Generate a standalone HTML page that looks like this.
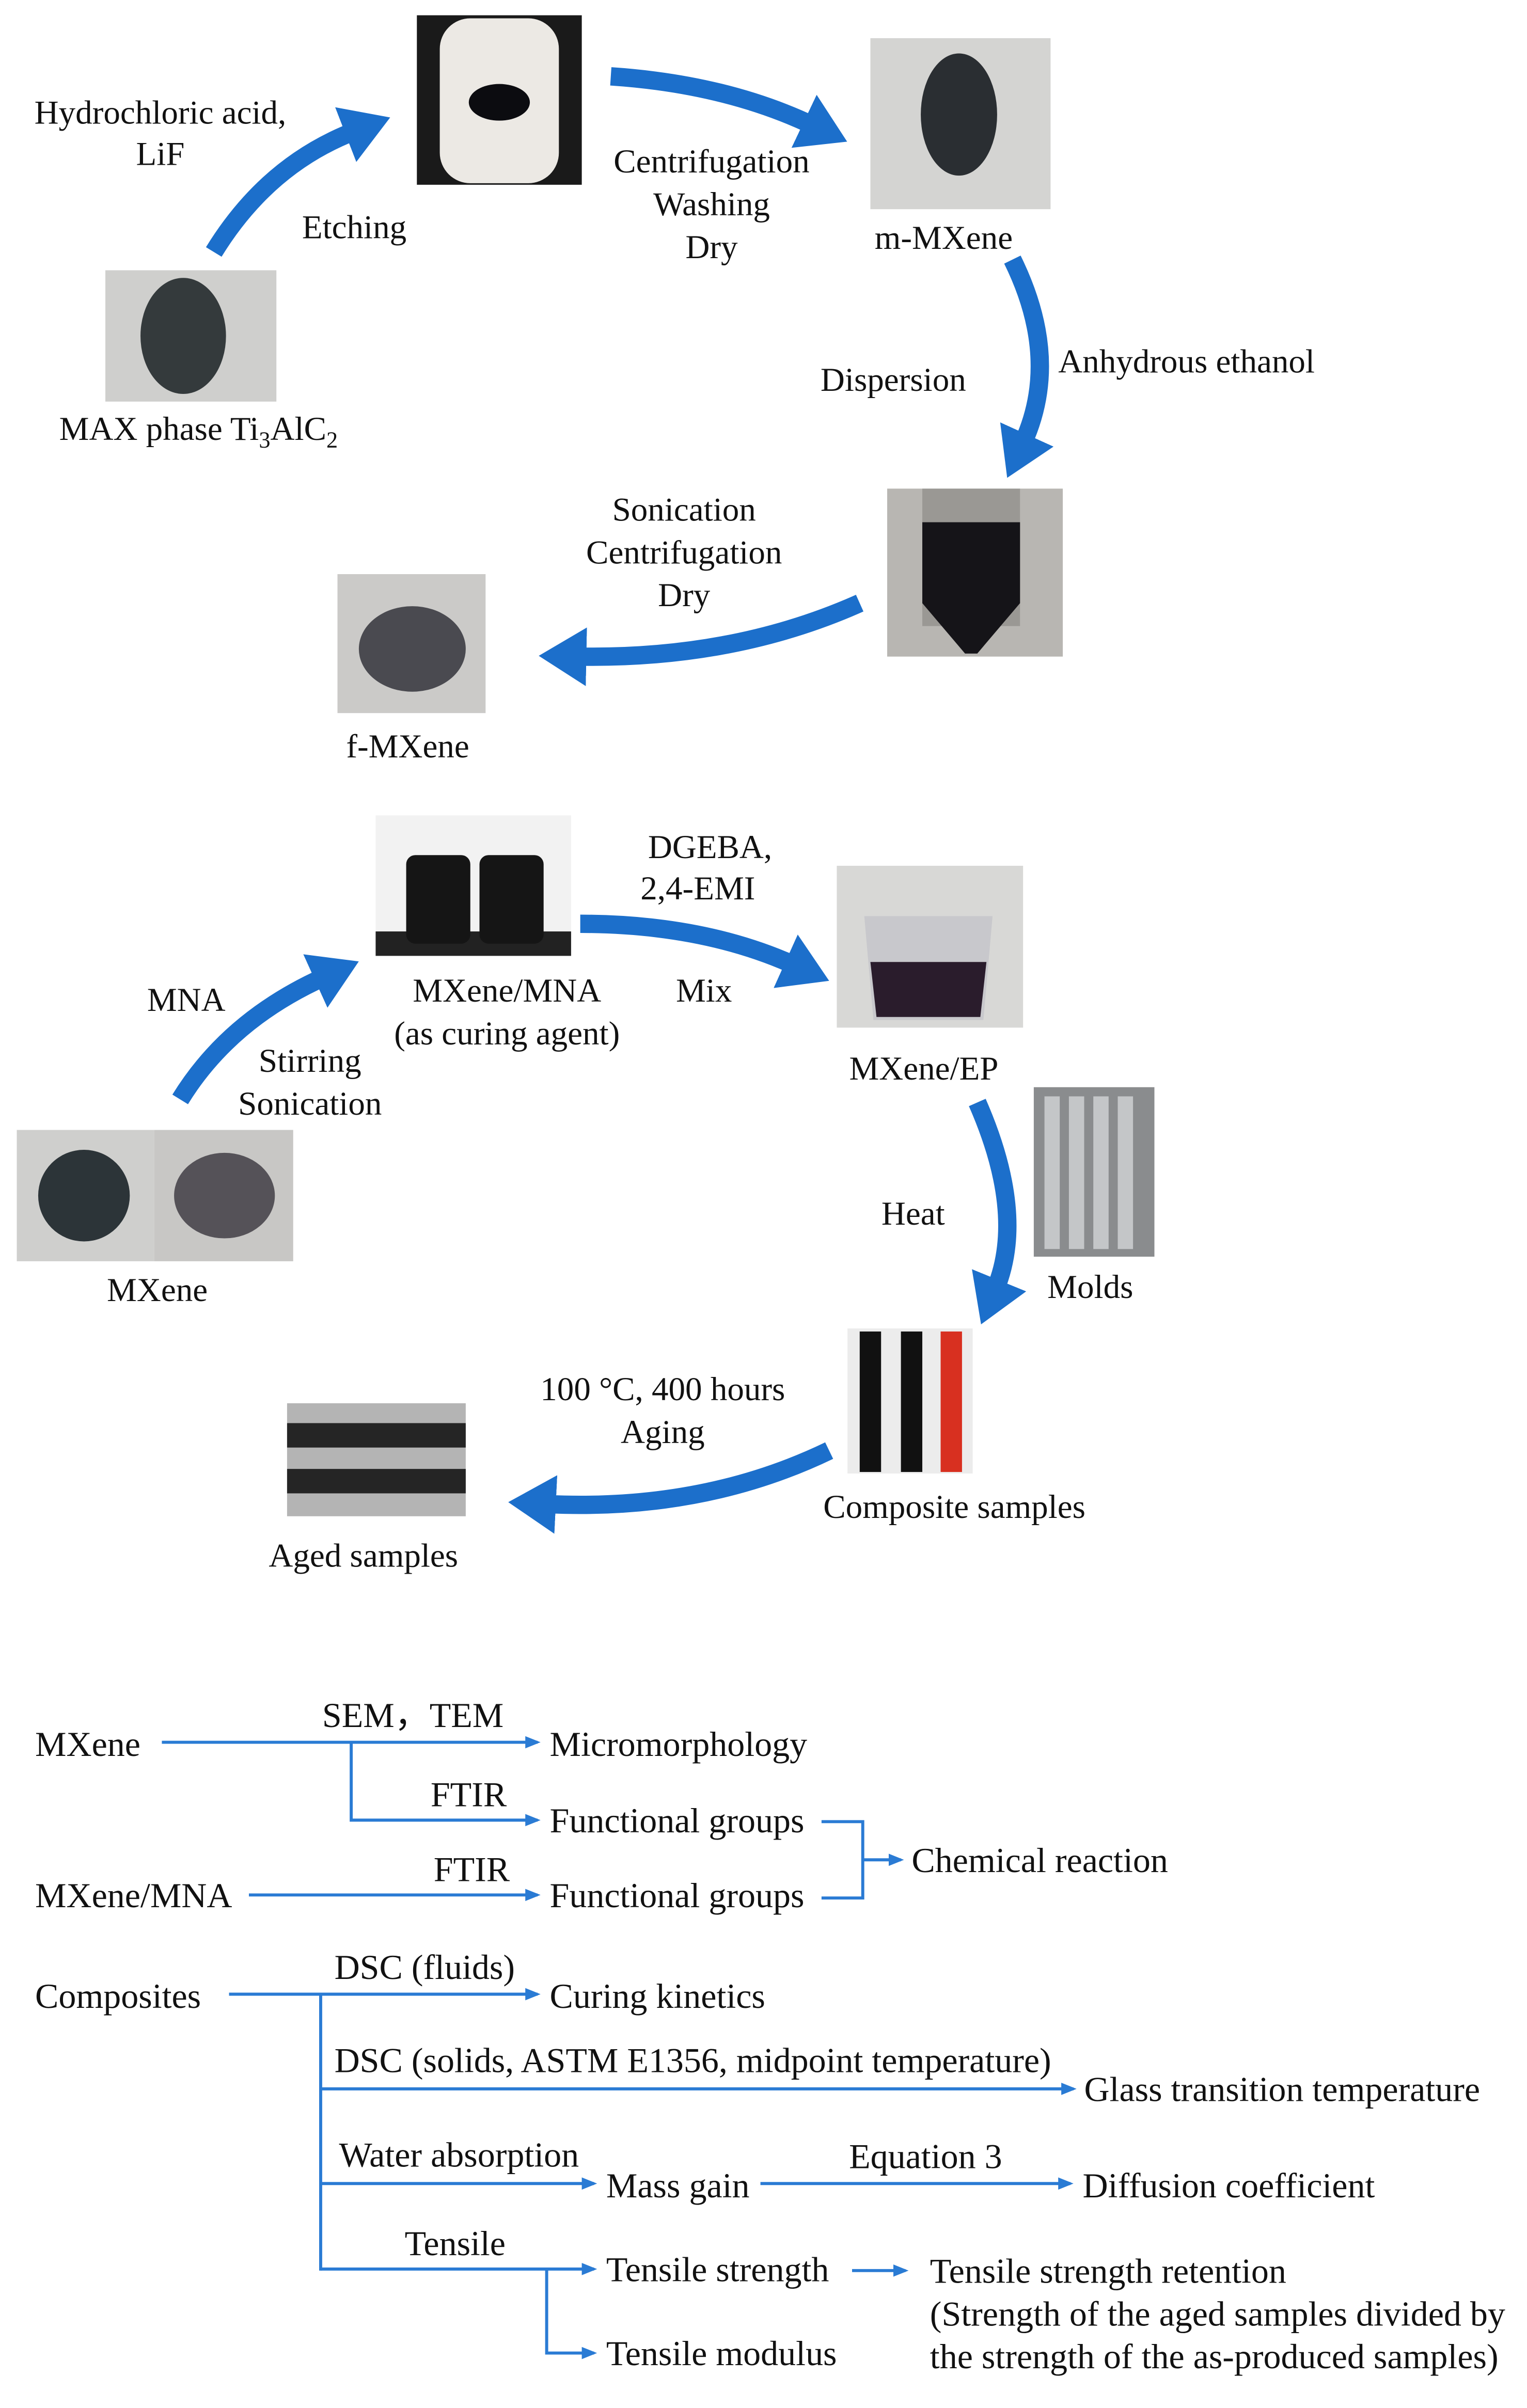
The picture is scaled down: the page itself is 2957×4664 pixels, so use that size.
<!DOCTYPE html>
<html><head><meta charset="utf-8"><style>
html,body{margin:0;padding:0;background:#fff;}
svg{display:block;}
text{font-family:"Liberation Serif","Times New Roman",serif;fill:#111;}
</style></head><body>
<svg width="2957" height="4664" viewBox="0 0 1000 1577" preserveAspectRatio="none" xmlns="http://www.w3.org/2000/svg">
<defs>
<marker id="big" markerWidth="3" markerHeight="3.2" refX="0.5" refY="1.6" orient="auto" markerUnits="strokeWidth"><path d="M0,0 L2.6,1.6 L0,3.2 Z" fill="#1c6fcb"/></marker>
<marker id="sm" markerWidth="5" markerHeight="5" refX="4" refY="2.5" orient="auto" markerUnits="strokeWidth"><path d="M0,0.5 L5,2.5 L0,4.5 Z" fill="#2a7bd4"/></marker>
</defs>
<g fill="none" stroke="#1c6fcb" stroke-width="12">
<path d="M140,165 Q175,108 232,86" marker-end="url(#big)"/>
<path d="M400,50 Q475,55 532,82" marker-end="url(#big)"/>
<path d="M663,170 Q695,235 670,290" marker-end="url(#big)"/>
<path d="M563,395 Q480,432 378,430" marker-end="url(#big)"/>
<path d="M118,720 Q150,668 212,640" marker-end="url(#big)"/>
<path d="M380,605 Q460,605 520,632" marker-end="url(#big)"/>
<path d="M640,722 Q672,795 652,844" marker-end="url(#big)"/>
<path d="M543,950 Q460,990 358,985" marker-end="url(#big)"/>
</g>
<rect x="273" y="10" width="108" height="111" fill="#1a1a1a"/>
<rect x="288" y="12" width="78" height="108" rx="20" fill="#ece9e4"/>
<ellipse cx="327" cy="67" rx="20" ry="12" fill="#0c0c10"/>
<rect x="570" y="25" width="118" height="112" fill="#d4d4d2"/>
<ellipse cx="628" cy="75" rx="25" ry="40" fill="#2a2e32"/>
<rect x="69" y="177" width="112" height="86" fill="#cfcfcd"/>
<ellipse cx="120" cy="220" rx="28" ry="38" fill="#343a3c"/>
<rect x="581" y="320" width="115" height="110" fill="#b8b6b2"/>
<rect x="604" y="320" width="64" height="90" fill="#9a9894"/>
<path d="M604,342 L668,342 L668,395 L640,428 L632,428 L604,395 Z" fill="#151418"/>
<rect x="221" y="376" width="97" height="91" fill="#cbcac8"/>
<ellipse cx="270" cy="425" rx="35" ry="28" fill="#4a4a50"/>
<rect x="246" y="534" width="128" height="92" fill="#f2f2f2"/>
<rect x="246" y="610" width="128" height="16" fill="#222"/>
<rect x="266" y="560" width="42" height="58" rx="6" fill="#151515"/>
<rect x="314" y="560" width="42" height="58" rx="6" fill="#151515"/>
<rect x="548" y="567" width="122" height="106" fill="#d8d8d6"/>
<path d="M566,600 L650,600 L644,668 L572,668 Z" fill="#c8c8cc"/>
<path d="M570,630 L646,630 L642,666 L574,666 Z" fill="#2a1c2c"/>
<rect x="11" y="740" width="90" height="86" fill="#cfcfcd"/>
<ellipse cx="55" cy="783" rx="30" ry="30" fill="#2c3438"/>
<rect x="101" y="740" width="91" height="86" fill="#c8c7c5"/>
<ellipse cx="147" cy="783" rx="33" ry="28" fill="#555258"/>
<rect x="677" y="712" width="79" height="111" fill="#8a8c8e"/>
<g fill="#c4c6c8"><rect x="684" y="718" width="10" height="100"/><rect x="700" y="718" width="10" height="100"/><rect x="716" y="718" width="10" height="100"/><rect x="732" y="718" width="10" height="100"/></g>
<rect x="555" y="870" width="82" height="95" fill="#ececec"/>
<rect x="563" y="872" width="14" height="92" fill="#111"/>
<rect x="590" y="872" width="14" height="92" fill="#111"/>
<rect x="616" y="872" width="14" height="92" fill="#d83020"/>
<rect x="188" y="919" width="117" height="74" fill="#b4b4b4"/>
<rect x="188" y="932" width="117" height="16" fill="#252525"/>
<rect x="188" y="962" width="117" height="16" fill="#252525"/>
<g font-size="22" text-anchor="middle">
<text x="105" y="81">Hydrochloric acid,</text>
<text x="105" y="108">LiF</text>
<text x="232" y="156">Etching</text>
<text x="466" y="113">Centrifugation</text>
<text x="466" y="141">Washing</text>
<text x="466" y="169">Dry</text>
<text x="618" y="163">m-MXene</text>
<text x="130" y="288">MAX phase Ti<tspan font-size="15" dy="5">3</tspan><tspan dy="-5">AlC</tspan><tspan font-size="15" dy="5">2</tspan></text>
<text x="585" y="256">Dispersion</text>
<text x="448" y="341">Sonication</text>
<text x="448" y="369">Centrifugation</text>
<text x="448" y="397">Dry</text>
<text x="267" y="496">f-MXene</text>
<text x="465" y="562">DGEBA,</text>
<text x="457" y="589">2,4-EMI</text>
<text x="122" y="662">MNA</text>
<text x="332" y="656">MXene/MNA</text>
<text x="332" y="684">(as curing agent)</text>
<text x="461" y="656">Mix</text>
<text x="203" y="702">Stirring</text>
<text x="203" y="730">Sonication</text>
<text x="605" y="707">MXene/EP</text>
<text x="598" y="802">Heat</text>
<text x="714" y="850">Molds</text>
<text x="103" y="852">MXene</text>
<text x="434" y="917">100 °C, 400 hours</text>
<text x="434" y="945">Aging</text>
<text x="625" y="994">Composite samples</text>
<text x="238" y="1026">Aged samples</text>
</g>
<text x="693" y="244" font-size="22">Anhydrous ethanol</text>
<g fill="none" stroke="#2a7bd4" stroke-width="2">
<path d="M106,1141 H352" marker-end="url(#sm)"/>
<path d="M230,1141 V1192 H352" marker-end="url(#sm)"/>
<path d="M163,1241 H352" marker-end="url(#sm)"/>
<path d="M538,1193 H565 V1243 H538"/>
<path d="M565,1218 H590" marker-end="url(#sm)"/>
<path d="M150,1306 H352" marker-end="url(#sm)"/>
<path d="M210,1306 V1487"/>
<path d="M210,1368 H703" marker-end="url(#sm)"/>
<path d="M210,1430 H389" marker-end="url(#sm)"/>
<path d="M498,1430 H701" marker-end="url(#sm)"/>
<path d="M210,1486 H389" marker-end="url(#sm)"/>
<path d="M358,1486 V1541 H389" marker-end="url(#sm)"/>
<path d="M558,1487 H593" marker-end="url(#sm)"/>
</g>
<g font-size="23">
<text x="23" y="1150">MXene</text>
<text x="211" y="1131">SEM，TEM</text>
<text x="360" y="1150">Micromorphology</text>
<text x="282" y="1183">FTIR</text>
<text x="360" y="1200">Functional groups</text>
<text x="597" y="1226">Chemical reaction</text>
<text x="23" y="1249">MXene/MNA</text>
<text x="284" y="1232">FTIR</text>
<text x="360" y="1249">Functional groups</text>
<text x="23" y="1315">Composites</text>
<text x="219" y="1296">DSC (fluids)</text>
<text x="360" y="1315">Curing kinetics</text>
<text x="219" y="1357">DSC (solids, ASTM E1356, midpoint temperature)</text>
<text x="710" y="1376">Glass transition temperature</text>
<text x="222" y="1419">Water absorption</text>
<text x="397" y="1439">Mass gain</text>
<text x="556" y="1420">Equation 3</text>
<text x="709" y="1439">Diffusion coefficient</text>
<text x="265" y="1477">Tensile</text>
<text x="397" y="1494">Tensile strength</text>
<text x="397" y="1549">Tensile modulus</text>
<text x="609" y="1495">Tensile strength retention</text>
<text x="609" y="1523">(Strength of the aged samples divided by</text>
<text x="609" y="1551">the strength of the as-produced samples)</text>
</g>
</svg>
</body></html>
